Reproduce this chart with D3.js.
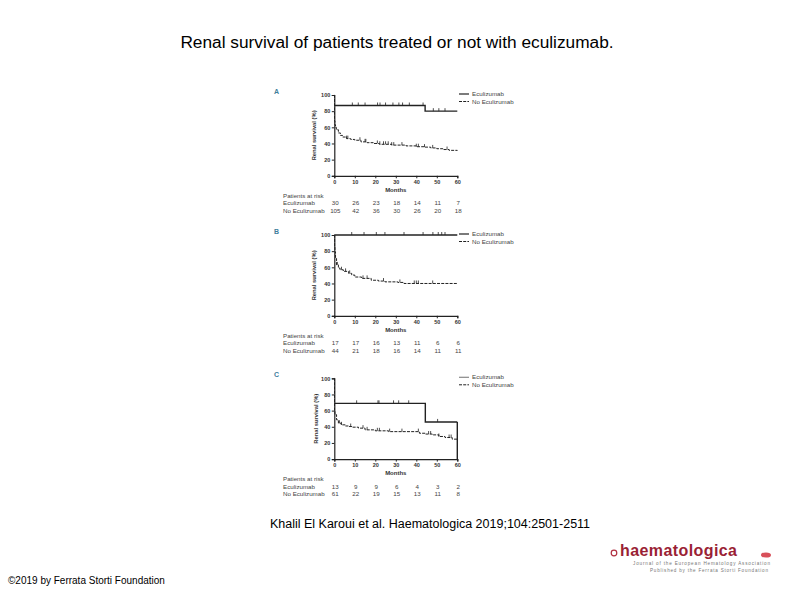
<!DOCTYPE html>
<html>
<head>
<meta charset="utf-8">
<script src="https://cdn.jsdelivr.net/npm/d3@7"></script>
<style>
  body { margin: 0; background: #fff; }
  svg { font-family: "Liberation Sans", Arial, sans-serif; }
</style>
</head>
<body>
<svg id="chart" width="794" height="595"></svg>
<script>
'use strict';

var monthTicks = [0, 10, 20, 30, 40, 50, 60],
  survivalTicks = [0, 20, 40, 60, 80, 100],
  panelLetters = ['A', 'B', 'C'],
  seriesNames = ['Eculizumab', 'No Eculizumab'];

// [month, survival %]
var ecuA = [[0, 87], [44.3, 80], [60, 80]],
  noEcuA = [[0, 100], [0.1, 68], [0.3, 63], [0.6, 60], [1, 57], [2, 53], [3, 50], [4, 48], [6, 46], [8, 45],
    [10, 44], [13, 42], [16, 41], [19, 40], [22, 39], [28, 38], [35, 37], [40, 36], [44, 35.5],
    [47, 34.5], [50, 33.5], [53, 32.5], [56, 31.5], [60, 31]],
  ecuB = [[0, 100], [60, 100]],
  noEcuB = [[0, 100], [0.15, 85], [0.3, 79], [0.6, 71], [1.1, 63], [2, 59], [2.8, 57], [4.4, 55], [7, 52.5],
    [8.5, 50.4], [10, 48], [13.3, 46.3], [18, 44], [21.5, 43], [24.7, 42], [31, 41.3], [34, 40], [60, 40]],
  ecuC = [[0, 69], [44.4, 46], [60, 46]],
  noEcuC = [[0, 100], [0.1, 60], [0.3, 55], [1.1, 48.6], [2, 44.4], [3.4, 42.4], [5.4, 41], [7, 40.3],
    [8.6, 39.5], [11.8, 38.3], [15, 36.2], [20, 35], [26.5, 34], [41.5, 32], [44.5, 31], [47.8, 30],
    [51, 28], [54, 26.7], [57.5, 24.7], [60, 24]];

// censored observations, months
var ecuCensorA = [8.8, 11.7, 15, 21.1, 22.3, 25, 28.6, 31.5, 33.3, 36.6, 43.3, 48.3, 51, 54],
  noEcuCensorA = [6, 6.6, 12.5, 15, 15.4, 21, 22.2, 24, 25, 26.3, 28, 29, 33, 40, 41, 44, 48, 55],
  ecuCensorB = [8.5, 14.5, 20.5, 24.7, 34, 43.3, 48.1, 50.7, 52.4, 54],
  noEcuCensorB = [1.5, 3.5, 5.5, 7.5, 14, 16, 24, 32, 39, 40, 41, 48],
  ecuCensorC = [10.9, 21.3, 21.8, 28.9, 31.4, 36.3, 50.4],
  noEcuCensorC = [2.5, 3.5, 8, 14, 16, 21, 22, 27, 33, 41, 46, 47, 51, 56, 57];

var riskEcuA = [30, 26, 23, 18, 14, 11, 7],
  riskNoEcuA = [105, 42, 36, 30, 26, 20, 18],
  riskEcuB = [17, 17, 16, 13, 11, 6, 6],
  riskNoEcuB = [44, 21, 18, 16, 14, 11, 11],
  riskEcuC = [13, 9, 9, 6, 4, 3, 2],
  riskNoEcuC = [61, 22, 19, 15, 13, 11, 8];

var ecuCurves = [ecuA, ecuB, ecuC],
  noEcuCurves = [noEcuA, noEcuB, noEcuC],
  ecuCensors = [ecuCensorA, ecuCensorB, ecuCensorC],
  noEcuCensors = [noEcuCensorA, noEcuCensorB, noEcuCensorC],
  riskEcu = [riskEcuA, riskEcuB, riskEcuC],
  riskNoEcu = [riskNoEcuA, riskNoEcuB, riskNoEcuC];

var svg = d3.select('#chart'),
  ink = '#222',
  plotLeft = 334.3,
  plotRight = 457.3,
  panelTops = [95, 235, 378.3],
  plotHeight = 80.8;

svg.append('text')
  .attr('x', 397).attr('y', 48)
  .attr('text-anchor', 'middle')
  .style('font-size', '17.3px').attr('fill', '#000')
  .text('Renal survival of patients treated or not with eculizumab.');

var x = d3.scaleLinear().domain([0, 60]).range([plotLeft, plotRight]);

function drawPanel(i) {
  var top = panelTops[i],
    y = d3.scaleLinear().domain([0, 100]).range([top + plotHeight, top]),
    g = svg.append('g');

  g.append('text').attr('x', 274).attr('y', top - 1)
    .style('font-size', '7px').style('font-weight', 'bold')
    .attr('fill', '#3f7e9c').text(panelLetters[i]);

  var line = d3.line().curve(d3.curveStepAfter)
    .x(function (d) { return x(d[0]); })
    .y(function (d) { return y(d[1]); });

  g.append('path').datum(noEcuCurves[i]).attr('d', line)
    .attr('fill', 'none').attr('stroke', ink).attr('stroke-width', 1)
    .attr('stroke-dasharray', '3,1.2');

  var ecuPath = ecuCurves[i];
  g.append('path').datum(ecuPath).attr('d', line)
    .attr('fill', 'none').attr('stroke', ink).attr('stroke-width', 1.4);
  if (i === 2) {
    var last = ecuPath[ecuPath.length - 1];
    g.append('line').attr('x1', x(last[0])).attr('x2', x(last[0]))
      .attr('y1', y(last[1])).attr('y2', y(0))
      .attr('stroke', ink).attr('stroke-width', 1.4);
  }

  function valueAt(curve, m) {
    var v = curve[0][1];
    curve.forEach(function (p) { if (p[0] <= m) v = p[1]; });
    return v;
  }

  function censor(curve, months) {
    g.selectAll(null).data(months).enter().append('line')
      .attr('x1', function (m) { return x(m); })
      .attr('x2', function (m) { return x(m); })
      .attr('y1', function (m) { return y(valueAt(curve, m)) - 3; })
      .attr('y2', function (m) { return y(valueAt(curve, m)); })
      .attr('stroke', ink).attr('stroke-width', 0.8);
  }
  censor(ecuPath, ecuCensors[i]);
  censor(noEcuCurves[i], noEcuCensors[i]);

  var yAxis = g.append('g').attr('transform', 'translate(' + plotLeft + ',0)')
    .call(d3.axisLeft(y).tickValues(survivalTicks).tickSize(2.5).tickPadding(1.5));
  var xAxis = g.append('g').attr('transform', 'translate(0,' + (top + plotHeight) + ')')
    .call(d3.axisBottom(x).tickValues(monthTicks).tickSize(2.5).tickPadding(2));
  [yAxis, xAxis].forEach(function (a) {
    a.select('.domain').attr('stroke', ink).attr('stroke-width', 1.2);
    a.selectAll('.tick line').attr('stroke', ink).attr('stroke-width', 1);
    a.selectAll('text').style('font-size', '5.5px').style('font-weight', 'bold')
      .attr('fill', '#333').style('font-family', '"Liberation Sans", Arial, sans-serif');
  });

  g.append('text')
    .attr('transform', 'translate(' + (i === 2 ? 318 : 316) + ',' + (top + plotHeight / 2) + ') rotate(-90)')
    .attr('text-anchor', 'middle').style('font-size', '5.8px').style('font-weight', 'bold')
    .attr('fill', '#333').text('Renal survival (%)');

  g.append('text').attr('x', x(30)).attr('y', top + plotHeight + 16)
    .attr('text-anchor', 'middle').style('font-size', '6px').style('font-weight', 'bold')
    .attr('fill', '#333').text('Months');

  // legend
  var legX = 459, legY = top - 1;
  seriesNames.forEach(function (name, k) {
    g.append('line').attr('x1', legX).attr('x2', legX + 10)
      .attr('y1', legY + k * 7.5).attr('y2', legY + k * 7.5)
      .attr('stroke', k === 0 && i === 2 ? '#888' : ink)
      .attr('stroke-width', k === 0 ? 1.2 : 1)
      .attr('stroke-dasharray', k === 0 ? null : '3,1.2');
    g.append('text').attr('x', legX + 13).attr('y', legY + k * 7.5 + 2)
      .style('font-size', '6.2px').attr('fill', '#444').text(name);
  });

  // patients at risk
  var riskTop = top + plotHeight + 22;
  g.append('text').attr('x', 283).attr('y', riskTop)
    .style('font-size', '6.2px').attr('fill', '#444').text('Patients at risk');
  [riskEcu[i], riskNoEcu[i]].forEach(function (row, k) {
    var ry = riskTop + 7.5 + k * 7.2;
    g.append('text').attr('x', 283).attr('y', ry)
      .style('font-size', '6.2px').attr('fill', '#444').text(seriesNames[k]);
    g.selectAll(null).data(row).enter().append('text')
      .attr('x', function (d, j) { return x(monthTicks[j]) + 1; })
      .attr('y', ry).attr('text-anchor', 'middle')
      .style('font-size', '6.2px').attr('fill', '#444')
      .text(function (d) { return d; });
  });
}

panelTops.forEach(function (t, i) { drawPanel(i); });

svg.append('text').attr('x', 430).attr('y', 528)
  .attr('text-anchor', 'middle').style('font-size', '12.5px').attr('fill', '#000')
  .text('Khalil El Karoui et al. Haematologica 2019;104:2501-2511');

svg.append('text').attr('x', 8).attr('y', 584)
  .style('font-size', '10px').attr('fill', '#000')
  .text('\u00a92019 by Ferrata Storti Foundation');

// journal logo
var logo = svg.append('g');
logo.append('circle').attr('cx', 614).attr('cy', 553).attr('r', 2.8)
  .attr('fill', 'none').attr('stroke', '#b03040').attr('stroke-width', 1.2);
logo.append('text').attr('x', 620).attr('y', 556)
  .style('font-size', '16px').style('font-weight', 'bold').attr('fill', '#9a1f35')
  .attr('textLength', 117).text('haematologica');
logo.append('text').attr('x', 633).attr('y', 564.5)
  .style('font-size', '4.6px').attr('fill', '#777')
  .attr('textLength', 137).text('Journal of the European Hematology Association');
logo.append('text').attr('x', 650).attr('y', 571.5)
  .style('font-size', '4.6px').attr('fill', '#777')
  .attr('textLength', 118).text('Published by the Ferrata Storti Foundation');
logo.append('ellipse').attr('cx', 766).attr('cy', 555).attr('rx', 5).attr('ry', 2.6)
  .attr('fill', '#d8505a');
</script>
</body>
</html>
